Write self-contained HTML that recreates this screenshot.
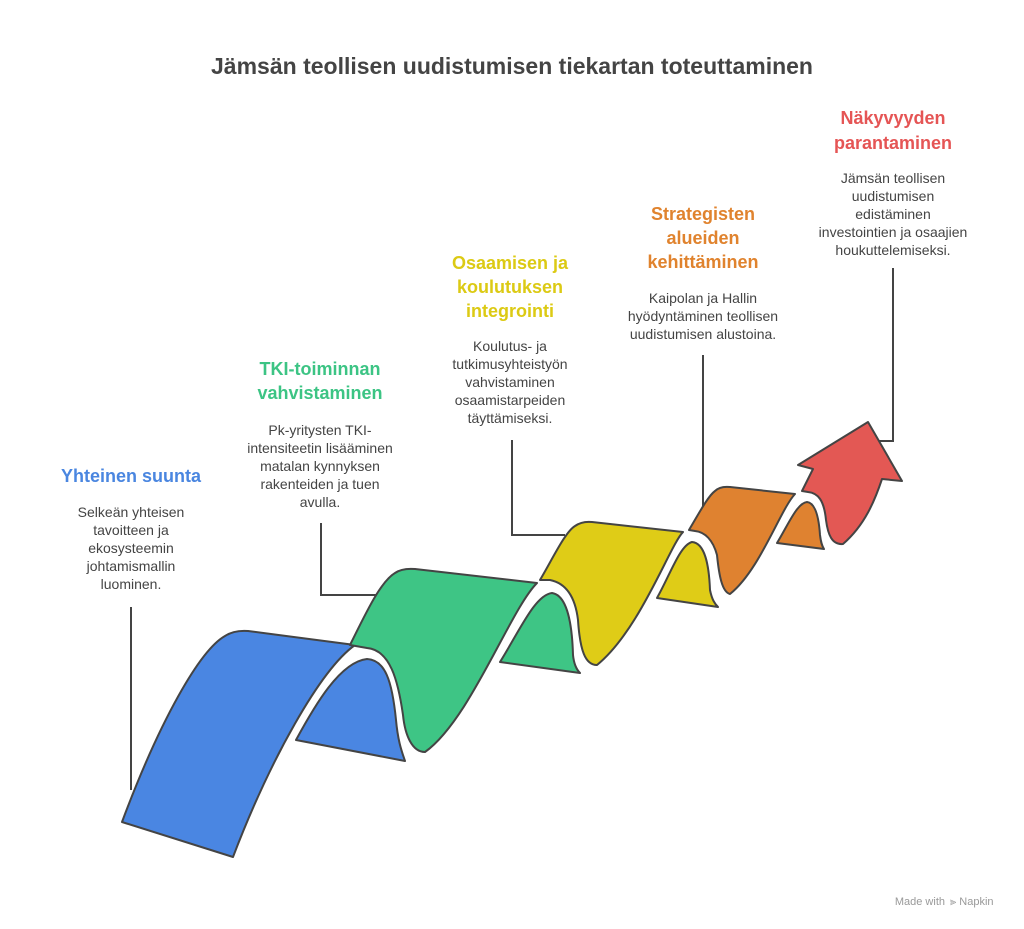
<!DOCTYPE html>
<html><head><meta charset="utf-8"><style>
html,body{margin:0;padding:0;background:#fff;}
svg{display:block;}
text{font-family:"Liberation Sans",Arial,sans-serif;}
.h{font-weight:bold;font-size:18px;text-anchor:middle;}
.b{font-size:14px;fill:#444;text-anchor:middle;}
.s{stroke:#444;stroke-width:2;stroke-linejoin:round;}
</style></head><body>
<svg width="1024" height="929" viewBox="0 0 1024 929" xmlns="http://www.w3.org/2000/svg">
<text x="512" y="74" text-anchor="middle" font-size="23" font-weight="bold" fill="#444">Jämsän teollisen uudistumisen tiekartan toteuttaminen</text>

<g fill="none" stroke="#444" stroke-width="2">
<path d="M131 607 V790"/>
<path d="M321 523 V595 H380"/>
<path d="M512 440 V535 H565"/>
<path d="M703 355 V507"/>
<path d="M893 268 V441 H868"/>
</g>

<path class="s" fill="#4a86e2" d="M296 740 C315 705 340 662 367 659 C385 660 392 680 396 720 C398 742 402 752 405 761 Z"/>
<path class="s" fill="#3ec585" d="M500 662 C520 630 535 595 552 593 C566 595 572 620 573 655 C574 665 577 670 580 673 Z"/>
<path class="s" fill="#dfcc17" d="M657 598 C670 575 680 545 692 542 C705 543 709 565 710 590 C712 600 715 604 718 607 Z"/>
<path class="s" fill="#df8230" d="M777 543 C788 525 797 503 807 502 C816 503 819 520 820 535 C821 543 822 546 824 549 Z"/>

<path class="s" fill="#4a86e2" d="M122 822 C160 720 200 650 225 636 Q234 630 248 631 L355 645 C320 670 270 760 233 857 Z"/>
<path class="s" fill="#3ec585" d="M350 645 C365 615 380 582 395 573 Q402 568 415 569 L537 583 C510 610 470 720 425 752 C412 752 405 735 403 715 C398 680 390 650 367 648 Z"/>
<path class="s" fill="#dfcc17" d="M540 580 C552 560 565 532 575 526 Q582 521 592 522 L683 532 C670 545 640 630 597 665 C585 665 580 650 578 620 C575 595 565 583 550 580 Z"/>
<path class="s" fill="#df8230" d="M689 530 C698 515 708 496 715 491 Q720 486 730 487 L795 494 C780 510 760 570 730 594 C722 592 719 575 717 555 C713 540 705 532 695 531 Z"/>
<path class="s" fill="#e35854" d="M802 491 L813 469 L798 465 L868 422 L902 481 L882 479 C875 500 865 525 843 544 C832 545 828 535 826 520 C824 500 818 493 808 492 Z"/>

<text class="h" fill="#4a86e0" x="131" y="482">Yhteinen suunta</text>
<text class="b" x="131" y="517">Selkeän yhteisen</text>
<text class="b" x="131" y="535">tavoitteen ja</text>
<text class="b" x="131" y="553">ekosysteemin</text>
<text class="b" x="131" y="571">johtamismallin</text>
<text class="b" x="131" y="589">luominen.</text>

<text class="h" fill="#3cc484" x="320" y="375">TKI-toiminnan</text>
<text class="h" fill="#3cc484" x="320" y="399">vahvistaminen</text>
<text class="b" x="320" y="435">Pk-yritysten TKI-</text>
<text class="b" x="320" y="453">intensiteetin lisääminen</text>
<text class="b" x="320" y="471">matalan kynnyksen</text>
<text class="b" x="320" y="489">rakenteiden ja tuen</text>
<text class="b" x="320" y="507">avulla.</text>

<text class="h" fill="#dcca14" x="510" y="269">Osaamisen ja</text>
<text class="h" fill="#dcca14" x="510" y="293">koulutuksen</text>
<text class="h" fill="#dcca14" x="510" y="317">integrointi</text>
<text class="b" x="510" y="351">Koulutus- ja</text>
<text class="b" x="510" y="369">tutkimusyhteistyön</text>
<text class="b" x="510" y="387">vahvistaminen</text>
<text class="b" x="510" y="405">osaamistarpeiden</text>
<text class="b" x="510" y="423">täyttämiseksi.</text>

<text class="h" fill="#e0832e" x="703" y="220">Strategisten</text>
<text class="h" fill="#e0832e" x="703" y="244">alueiden</text>
<text class="h" fill="#e0832e" x="703" y="268">kehittäminen</text>
<text class="b" x="703" y="303">Kaipolan ja Hallin</text>
<text class="b" x="703" y="321">hyödyntäminen teollisen</text>
<text class="b" x="703" y="339">uudistumisen alustoina.</text>

<text class="h" fill="#e55555" x="893" y="124">Näkyvyyden</text>
<text class="h" fill="#e55555" x="893" y="149">parantaminen</text>
<text class="b" x="893" y="183">Jämsän teollisen</text>
<text class="b" x="893" y="201">uudistumisen</text>
<text class="b" x="893" y="219">edistäminen</text>
<text class="b" x="893" y="237">investointien ja osaajien</text>
<text class="b" x="893" y="255">houkuttelemiseksi.</text>

<text x="945" y="905" text-anchor="end" font-size="11" fill="#999">Made with</text>
<text x="950" y="905" font-size="11" fill="#999">⫸ Napkin</text>
</svg>
</body></html>
